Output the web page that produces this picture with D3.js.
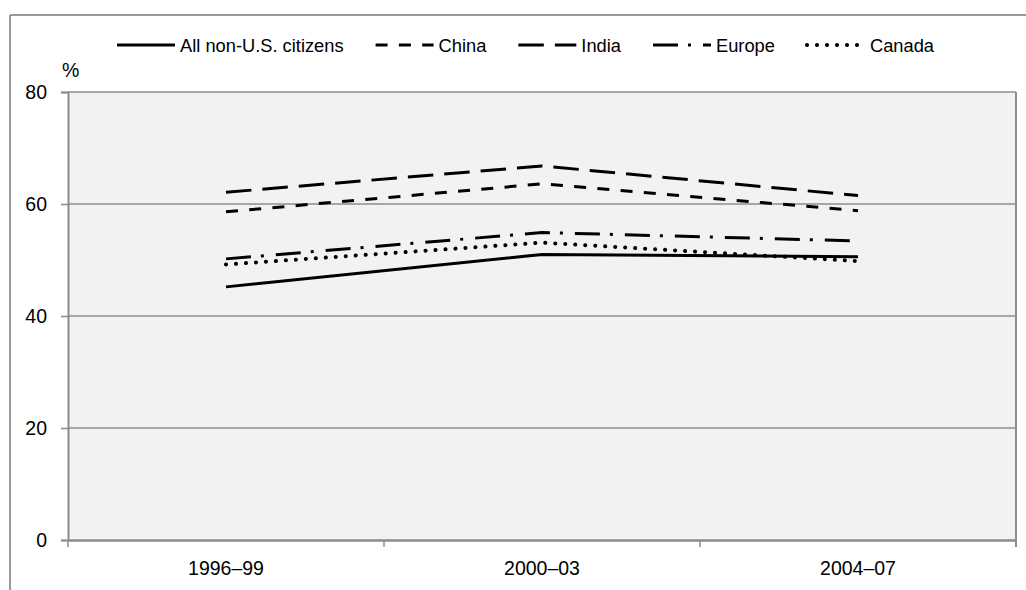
<!DOCTYPE html>
<html>
<head>
<meta charset="utf-8">
<script src="https://cdn.jsdelivr.net/npm/d3@7"></script>
<style>
  html, body { margin: 0; padding: 0; background: #fff; }
  svg { display: block; }
  text { font-family: "Liberation Sans", Arial, sans-serif; fill: #000; }
</style>
</head>
<body>
<svg id="chart" width="1026" height="590"></svg>
<script>
// ---- data ----
const categories = ["1996–99", "2000–03", "2004–07"];
const seriesNames = ["All non-U.S. citizens", "China", "India", "Europe", "Canada"];
const allNonUS = [45.2, 51.0, 50.6];
const china    = [58.6, 63.6, 58.8];
const india    = [62.1, 66.8, 61.5];
const europe   = [50.2, 54.9, 53.4];
const canada   = [49.2, 53.1, 49.8];
const yTicks   = [0, 20, 40, 60, 80];
const yLabel   = "%";

const seriesValues = [allNonUS, china, india, europe, canada];
const dashStyles = ["none", "12,11.3", "25.5,11", "25,10,3,12", "0.1,9.9"];
const capStyles  = ["butt", "butt", "butt", "butt", "round"];
const widths     = [3, 3, 3, 3, 4];

const svg = d3.select("#chart");
const W = 1026, H = 590;
const plot = { left: 68, right: 1016, top: 92, bottom: 540 };
const grid = "#8c8c8c";
const axisFont = 19.5, legendFont = 18.3;

// outer frame
svg.append("line").attr("x1", 10).attr("x2", W).attr("y1", 15).attr("y2", 15)
  .attr("stroke", "#9a9a9a").attr("stroke-width", 2);
svg.append("line").attr("x1", 10).attr("x2", 10).attr("y1", 15).attr("y2", H)
  .attr("stroke", "#9a9a9a").attr("stroke-width", 2);

const x = d3.scaleBand().domain(categories).range([plot.left, plot.right]).padding(0);
const y = d3.scaleLinear().domain([0, 80]).range([plot.bottom, plot.top]);

// plot background
svg.append("rect").attr("x", plot.left).attr("y", plot.top)
  .attr("width", plot.right - plot.left).attr("height", plot.bottom - plot.top)
  .attr("fill", "#f2f2f2");

// gridlines
svg.append("g").selectAll("line").data(yTicks.filter(d => d > 0)).join("line")
  .attr("x1", plot.left).attr("x2", plot.right)
  .attr("y1", d => y(d)).attr("y2", d => y(d))
  .attr("stroke", grid).attr("stroke-width", 1.5);

// right border of plot
svg.append("line").attr("x1", plot.right).attr("x2", plot.right)
  .attr("y1", plot.top).attr("y2", plot.bottom + 7)
  .attr("stroke", grid).attr("stroke-width", 2);

// y axis
const yAxis = d3.axisLeft(y).tickValues(yTicks).tickSize(7).tickPadding(14).tickFormat(d3.format("d"));
const gy = svg.append("g").attr("transform", `translate(${plot.left},0)`).call(yAxis);
gy.select(".domain").attr("stroke", grid).attr("stroke-width", 2);
gy.selectAll(".tick line").attr("stroke", grid).attr("stroke-width", 1.5);
gy.selectAll(".tick text").attr("font-size", axisFont).attr("font-family", "Liberation Sans, Arial, sans-serif");

// x axis
const xAxis = d3.axisBottom(x).tickSize(0).tickPadding(21);
const gx = svg.append("g").attr("transform", `translate(0,${plot.bottom})`).call(xAxis);
gx.select(".domain").attr("stroke", grid).attr("stroke-width", 2.5);
gx.selectAll(".tick text").attr("font-size", axisFont).attr("font-family", "Liberation Sans, Arial, sans-serif");
// category boundary ticks
const bounds = categories.map(c => x(c)).concat([x(categories[categories.length - 1]) + x.bandwidth()]);
svg.append("g").selectAll("line").data(bounds).join("line")
  .attr("x1", d => d).attr("x2", d => d)
  .attr("y1", plot.bottom).attr("y2", plot.bottom + 7)
  .attr("stroke", grid).attr("stroke-width", 1.5);

// y label
svg.append("text").attr("x", 62).attr("y", 77).attr("font-size", axisFont).text(yLabel);

// lines
const line = d3.line()
  .x((d, i) => x(categories[i]) + x.bandwidth() / 2)
  .y(d => y(d));

svg.append("g").selectAll("path").data(seriesValues).join("path")
  .attr("d", d => line(d))
  .attr("fill", "none")
  .attr("stroke", "#000")
  .attr("stroke-width", (d, i) => widths[i])
  .attr("stroke-dasharray", (d, i) => dashStyles[i])
  .attr("stroke-linecap", (d, i) => capStyles[i])
  .attr("stroke-linejoin", "round");

// legend
const legend = svg.append("g");
let lx = 117;
const ly = 45;
seriesNames.forEach((name, i) => {
  legend.append("line")
    .attr("x1", lx).attr("x2", lx + 58).attr("y1", ly).attr("y2", ly)
    .attr("stroke", "#000").attr("stroke-width", widths[i])
    .attr("stroke-dasharray", dashStyles[i])
    .attr("stroke-linecap", capStyles[i]);
  const t = legend.append("text")
    .attr("x", lx + 63).attr("y", ly + 6.5)
    .attr("font-size", legendFont).text(name);
  lx += 63 + t.node().getComputedTextLength() + 32;
});
</script>
</body>
</html>
